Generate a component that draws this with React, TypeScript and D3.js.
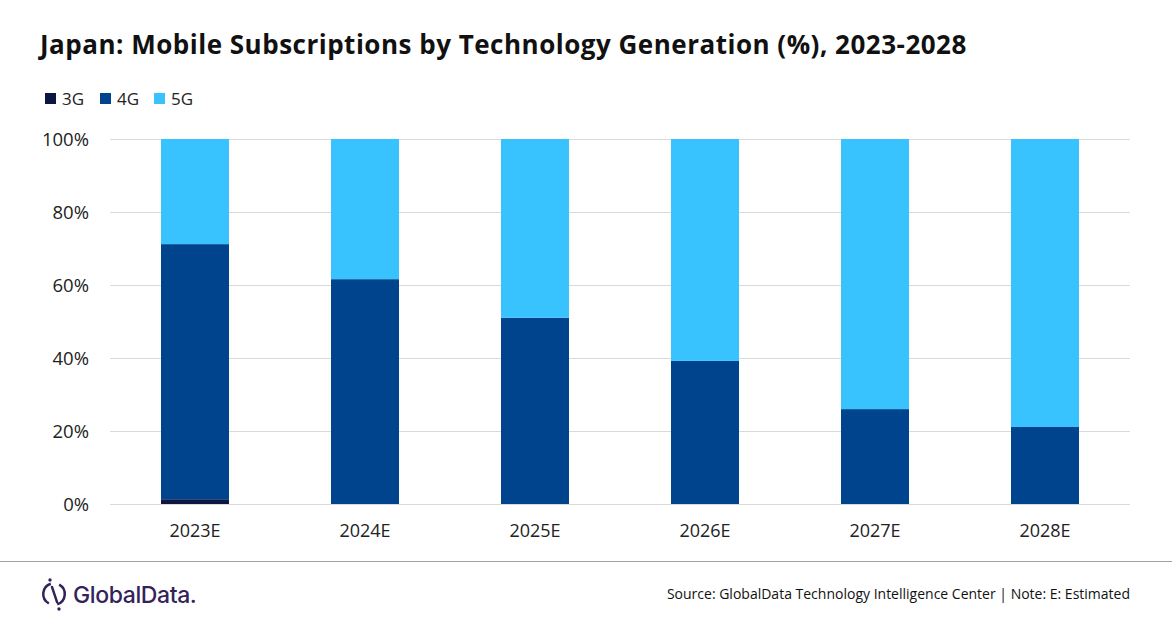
import { useEffect, useRef } from "react";
import * as d3 from "d3";

const years = ["2023E", "2024E", "2025E", "2026E", "2027E", "2028E"];
const gen3 = [1.3, 0, 0, 0, 0, 0];
const gen4 = [69.9, 61.6, 51.0, 39.2, 26.0, 21.1];
const gen5 = [28.8, 38.4, 49.0, 60.8, 74.0, 78.9];
const seriesKeys = ["3G", "4G", "5G"];
const seriesColors = ["#0b1742", "#00448e", "#38c3ff"];
const yTicks = [0, 20, 40, 60, 80, 100];

const FONT = "'Open Sans', 'Noto Sans', sans-serif";

export default function App() {
  const ref = useRef<SVGSVGElement | null>(null);

  useEffect(() => {
    if (!ref.current) return;
    const width = 1172;
    const height = 628;
    const margin = { top: 139, right: 42, bottom: 124, left: 110 };

    const svg = d3.select(ref.current);
    svg.selectAll("*").remove();

    const rows = years.map((y, i) => ({ year: y, "3G": gen3[i], "4G": gen4[i], "5G": gen5[i] }));
    const stack = d3.stack<any>().keys(seriesKeys);
    const layers = stack(rows);

    const x = d3
      .scaleBand<string>()
      .domain(years)
      .range([margin.left, width - margin.right])
      .paddingInner(0.6)
      .paddingOuter(0.3);
    const y = d3
      .scaleLinear()
      .domain([0, 100])
      .range([height - margin.bottom, margin.top]);

    // title
    svg
      .append("text")
      .attr("x", 40)
      .attr("y", 54)
      .attr("font-family", FONT)
      .attr("font-weight", 700)
      .attr("font-size", 26)
      .attr("letter-spacing", 0.5)
      .attr("fill", "#111")
      .text("Japan: Mobile Subscriptions by Technology Generation (%), 2023-2028");

    // legend
    const legendX = [45, 100, 154];
    const legend = svg.append("g");
    seriesKeys.forEach((k, i) => {
      legend
        .append("rect")
        .attr("x", legendX[i])
        .attr("y", 93)
        .attr("width", 11)
        .attr("height", 11)
        .attr("fill", seriesColors[i]);
      legend
        .append("text")
        .attr("x", legendX[i] + 17)
        .attr("y", 105)
        .attr("font-family", FONT)
        .attr("font-size", 17)
        .attr("fill", "#222")
        .text(k);
    });

    // gridlines
    svg
      .append("g")
      .selectAll("line")
      .data(yTicks)
      .join("line")
      .attr("x1", margin.left)
      .attr("x2", width - margin.right)
      .attr("y1", (d) => y(d) + 0.5)
      .attr("y2", (d) => y(d) + 0.5)
      .attr("stroke", "#d9d9d9")
      .attr("stroke-width", 1);

    // y labels
    svg
      .append("g")
      .selectAll("text")
      .data(yTicks)
      .join("text")
      .attr("x", 89)
      .attr("y", (d) => y(d))
      .attr("dy", "0.36em")
      .attr("text-anchor", "end")
      .attr("font-family", FONT)
      .attr("font-size", 18.5)
      .attr("fill", "#222")
      .text((d) => `${d}%`);

    // bars
    svg
      .append("g")
      .selectAll("g")
      .data(layers)
      .join("g")
      .attr("fill", (_, i) => seriesColors[i])
      .selectAll("rect")
      .data((d) => d)
      .join("rect")
      .attr("x", (d) => x(d.data.year)!)
      .attr("width", x.bandwidth())
      .attr("y", (d) => y(d[1]))
      .attr("height", (d) => Math.max(0, y(d[0]) - y(d[1])));

    // x labels
    svg
      .append("g")
      .selectAll("text")
      .data(years)
      .join("text")
      .attr("x", (d) => x(d)! + x.bandwidth() / 2)
      .attr("y", 537)
      .attr("text-anchor", "middle")
      .attr("font-family", FONT)
      .attr("font-size", 18)
      .attr("fill", "#222")
      .text((d) => d);

    // footer rule
    svg
      .append("line")
      .attr("x1", 0)
      .attr("x2", width)
      .attr("y1", 561.5)
      .attr("y2", 561.5)
      .attr("stroke", "#a0a0a0")
      .attr("stroke-width", 1);

    // logo
    const logo = svg.append("g").attr("transform", "translate(54,594)");
    const purple = "#34235a";
    logo
      .append("path")
      .attr("d", d3.arc()({ innerRadius: 9.5, outerRadius: 12, startAngle: 0.5, endAngle: Math.PI - 0.3 }) as string)
      .attr("fill", purple);
    logo
      .append("path")
      .attr("d", d3.arc()({ innerRadius: 9.5, outerRadius: 12, startAngle: Math.PI + 0.5, endAngle: 2 * Math.PI - 0.3 }) as string)
      .attr("fill", purple);
    logo
      .append("line")
      .attr("x1", -2)
      .attr("y1", -7)
      .attr("x2", 3)
      .attr("y2", 8)
      .attr("stroke", purple)
      .attr("stroke-width", 2.4)
      .attr("stroke-linecap", "round");
    logo.append("circle").attr("cx", -4).attr("cy", -14).attr("r", 1.7).attr("fill", purple);
    logo.append("circle").attr("cx", 5).attr("cy", 15).attr("r", 1.7).attr("fill", purple);
    svg
      .append("text")
      .attr("x", 73)
      .attr("y", 603)
      .attr("font-family", "'Inter', 'Noto Sans', sans-serif")
      .attr("font-weight", 500)
      .attr("font-size", 23)
      .attr("letter-spacing", -0.4)
      .attr("fill", purple)
      .text("GlobalData.");

    // source
    svg
      .append("text")
      .attr("x", 1130)
      .attr("y", 599)
      .attr("text-anchor", "end")
      .attr("font-family", FONT)
      .attr("font-size", 14)
      .attr("fill", "#111")
      .text("Source:  GlobalData Technology Intelligence Center | Note:  E: Estimated");
  }, []);

  return (
    <svg
      ref={ref}
      width={1172}
      height={628}
      style={{ display: "block", position: "absolute", left: 0, top: 0, background: "#fff" }}
    />
  );
}
